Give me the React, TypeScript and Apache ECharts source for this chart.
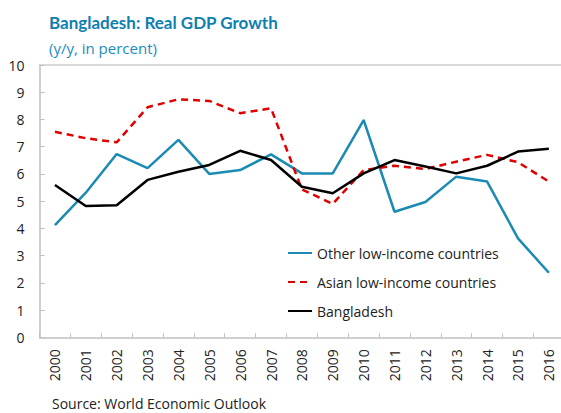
import React, { useEffect, useRef } from "react";
import * as echarts from "echarts";

const years = ["2000","2001","2002","2003","2004","2005","2006","2007","2008","2009","2010","2011","2012","2013","2014","2015","2016"];
const otherLowIncome = [4.12, 5.31, 6.73, 6.21, 7.25, 6.0, 6.14, 6.72, 6.02, 6.02, 7.98, 4.61, 4.97, 5.9, 5.72, 3.63, 2.37];
const asianLowIncome = [7.55, 7.31, 7.16, 8.45, 8.74, 8.68, 8.23, 8.41, 5.43, 4.9, 6.14, 6.3, 6.18, 6.45, 6.7, 6.43, 5.72];
const bangladesh = [5.59, 4.82, 4.85, 5.78, 6.08, 6.33, 6.85, 6.51, 5.53, 5.29, 6.02, 6.51, 6.27, 6.02, 6.3, 6.82, 6.92];
const yTicks = [0, 10, 1];

const FONT = "Open Sans";

export default function App() {
  const ref = useRef<HTMLDivElement>(null);
  useEffect(() => {
    if (!ref.current) return;
    const chart = echarts.init(ref.current, null, { renderer: "svg" });
    chart.setOption({
      animation: false,
      backgroundColor: "#ffffff",
      textStyle: { fontFamily: FONT },
      title: [
        {
          text: "Bangladesh: Real GDP Growth",
          left: 44,
          top: 9,
          textStyle: { fontFamily: "Lato", fontWeight: "bold", fontSize: 17, color: "#0E80B0" },
        },
        {
          text: "(y/y, in percent)",
          left: 44,
          top: 35,
          textStyle: { fontFamily: FONT, fontWeight: "normal", fontSize: 15, color: "#1A8CC0" },
        },
        {
          text: "Source: World Economic Outlook",
          left: 47,
          top: 391,
          textStyle: { fontFamily: FONT, fontWeight: "normal", fontSize: 14, color: "#222222" },
        },
      ],
      legend: {
        orient: "vertical",
        left: 287,
        top: 246,
        padding: 0,
        itemWidth: 24,
        itemHeight: 14,
        itemGap: 15,
        itemStyle: { opacity: 0, borderWidth: 0 },
        textStyle: { fontFamily: FONT, fontSize: 14, color: "#222222" },
        data: ["Other low-income countries", "Asian low-income countries", "Bangladesh"],
      },
      grid: { left: 39.5, right: 5.7, top: 65, bottom: 413 - 337.3, containLabel: false },
      xAxis: [
        {
          type: "category",
          data: years,
          boundaryGap: true,
          axisLine: { lineStyle: { color: "#bfbfbf", width: 1.5 } },
          axisTick: { show: true, inside: true, length: 4, lineStyle: { color: "#bfbfbf" } },
          axisLabel: { rotate: 90, fontFamily: FONT, fontSize: 14, color: "#222222", margin: 12 },
        },
        {
          type: "category",
          data: years,
          position: "top",
          axisLine: { lineStyle: { color: "#d9d9d9", width: 2 } },
          axisTick: { show: false },
          axisLabel: { show: false },
        },
      ],
      yAxis: {
        type: "value",
        min: yTicks[0],
        max: yTicks[1],
        interval: yTicks[2],
        axisLine: { show: true, lineStyle: { color: "#bfbfbf", width: 1.5 } },
        axisTick: { show: true, inside: true, length: 5, lineStyle: { color: "#bfbfbf" } },
        axisLabel: { fontFamily: FONT, fontSize: 14, color: "#222222", margin: 15 },
        splitLine: { show: false },
      },
      series: [
        {
          name: "Other low-income countries",
          type: "line",
          data: otherLowIncome,
          symbol: "none",
          color: "#1B8BB4",
          lineStyle: { color: "#1B8BB4", width: 2.5 },
        },
        {
          name: "Asian low-income countries",
          type: "line",
          data: asianLowIncome,
          symbol: "none",
          color: "#E00000",
          lineStyle: { color: "#E00000", width: 2.5, type: [7, 5] },
        },
        {
          name: "Bangladesh",
          type: "line",
          data: bangladesh,
          symbol: "none",
          color: "#000000",
          lineStyle: { color: "#000000", width: 2.5 },
        },
      ],
    });
    return () => chart.dispose();
  }, []);
  return (
    <div
      ref={ref}
      style={{ position: "fixed", left: 0, top: 0, width: 570, height: 413 }}
    />
  );
}
